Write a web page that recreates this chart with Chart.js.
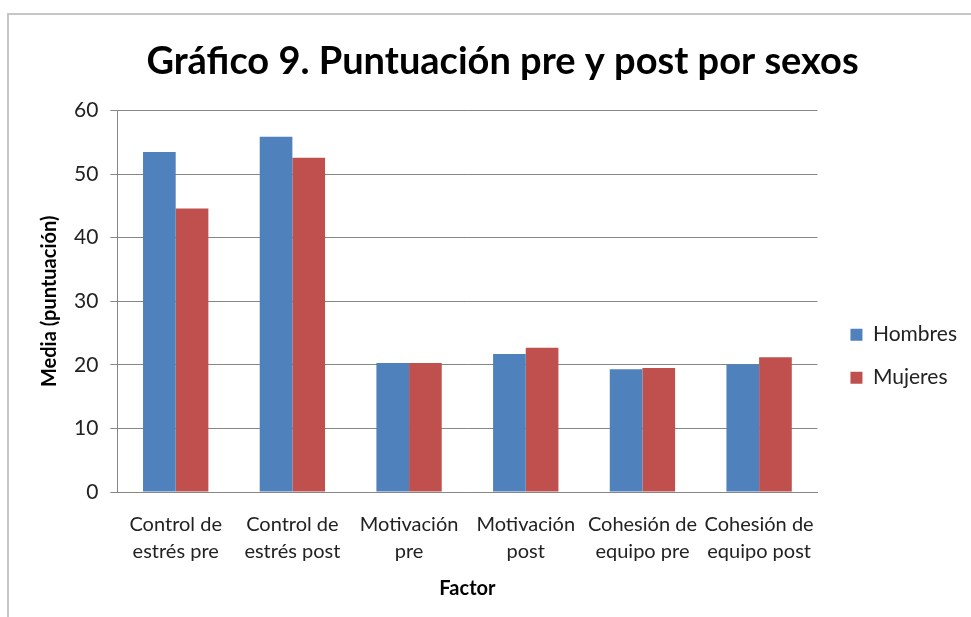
<!DOCTYPE html>
<html>
<head>
<meta charset="utf-8">
<script src="https://cdn.jsdelivr.net/npm/chart.js@4/dist/chart.umd.min.js"></script>
<style>
  body { margin: 0; background: #fff; }
  #frame {
    position: absolute; left: 7px; top: 13px;
    width: 964px; height: 604px;
    border-left: 2px solid #c6c6c6; border-top: 2px solid #c6c6c6;
  }
</style>
</head>
<body>
<div id="frame"><canvas id="chart"></canvas></div>
<script>
const categories = [
  ['Control de', 'estrés pre'],
  ['Control de', 'estrés post'],
  ['Motivación', 'pre'],
  ['Motivación', 'post'],
  ['Cohesión de', 'equipo pre'],
  ['Cohesión de', 'equipo post']
];
const hombres = [53.5, 55.9, 20.3, 21.7, 19.3, 20.1];
const mujeres = [44.6, 52.6, 20.3, 22.7, 19.5, 21.2];
const yTicks = [0, 10, 20, 30, 40, 50, 60];

const fontFamily = 'Lato, "Open Sans", sans-serif';

new Chart(document.getElementById('chart'), {
  type: 'bar',
  data: {
    labels: categories,
    datasets: [
      { label: 'Hombres', data: hombres, backgroundColor: '#4f81bd' },
      { label: 'Mujeres', data: mujeres, backgroundColor: '#c0504d' }
    ]
  },
  options: {
    responsive: true,
    maintainAspectRatio: false,
    animation: false,
    categoryPercentage: 0.56,
    barPercentage: 1,
    layout: { padding: { top: 24, right: 6, bottom: 14, left: 29 } },
    plugins: {
      title: {
        display: true,
        text: 'Gráfico 9. Puntuación pre y post por sexos',
        color: '#000',
        font: { family: fontFamily, size: 38, weight: 'bold' },
        padding: { top: 0, bottom: 26 }
      },
      legend: {
        position: 'right',
        // empty title only pushes the two entries down
        title: { display: true, text: '', font: { size: 12 }, padding: { top: 0, bottom: 54 } },
        labels: {
          color: '#222',
          font: { family: fontFamily, size: 21 },
          boxWidth: 12, boxHeight: 12,
          padding: 22
        }
      },
      tooltip: { enabled: false }
    },
    scales: {
      x: {
        grid: { display: false },
        border: { color: '#868686', width: 1 },
        ticks: {
          color: '#222', maxRotation: 0, autoSkip: false,
          font: { family: fontFamily, size: 20, lineHeight: 1.35 }, padding: 11
        },
        title: {
          display: true, text: 'Factor', color: '#000',
          font: { family: fontFamily, size: 20, weight: 'bold' },
          padding: { top: 1 }
        }
      },
      y: {
        min: 0, max: 60,
        afterBuildTicks: axis => { axis.ticks = yTicks.map(v => ({ value: v })); },
        grid: { color: '#868686', tickLength: 7, tickColor: '#868686' },
        border: { color: '#868686', width: 1 },
        ticks: {
          color: '#222', padding: 12,
          font: { family: fontFamily, size: 21 }
        },
        title: {
          display: true, text: 'Media (puntuación)', color: '#000',
          font: { family: fontFamily, size: 20, weight: 'bold' },
          padding: { top: 0, bottom: 0 }
        }
      },
      // empty spacer between plot and legend
      gap: {
        position: 'right', display: true,
        grid: { display: false }, border: { display: false },
        ticks: { display: false }, title: { display: false },
        afterFit: axis => { axis.width = 11; }
      }
    }
  }
});
</script>
</body>
</html>
